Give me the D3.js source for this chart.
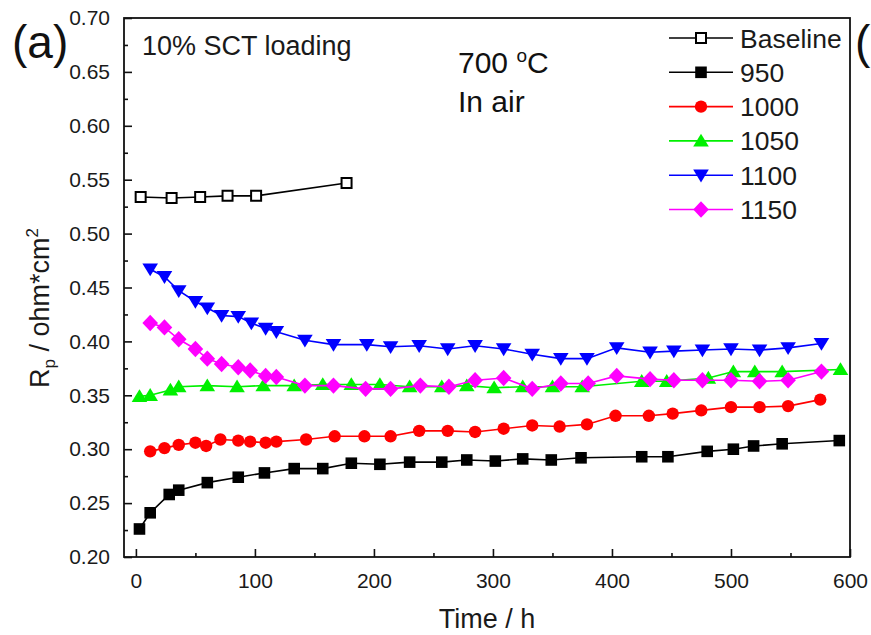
<!DOCTYPE html>
<html>
<head>
<meta charset="utf-8">
<script src="https://cdn.jsdelivr.net/npm/d3@7"></script>
<style>
  html, body { margin: 0; padding: 0; background: #fff; }
  svg { display: block; font-family: "Liberation Sans", Arial, sans-serif; }
</style>
</head>
<body>
<svg id="chart" width="871" height="635"></svg>
<script>
// ---------------- DATA ----------------
const seriesNames = ["Baseline", "950", "1000", "1050", "1100", "1150"];

const timeBaseline = [4, 30, 54, 77, 101, 177];
const rpBaseline   = [0.534, 0.533, 0.534, 0.535, 0.535, 0.547];

const time950 = [3, 12, 28, 36, 60, 86, 108, 133, 157, 181, 205, 230, 257, 278, 302, 325, 349, 374, 425, 447, 480, 502, 519, 543, 591];
const rp950   = [0.226, 0.241, 0.258, 0.262, 0.269, 0.274, 0.278, 0.282, 0.282, 0.287, 0.286, 0.288, 0.288, 0.290, 0.289, 0.291, 0.290, 0.292, 0.293, 0.293, 0.298, 0.300, 0.303, 0.305, 0.308];

const time1000 = [12, 24, 36, 50, 59, 71, 86, 96, 109, 118, 143, 167, 192, 214, 238, 262, 285, 309, 333, 356, 379, 403, 431, 451, 475, 500, 524, 548, 575];
const rp1000   = [0.298, 0.301, 0.304, 0.306, 0.303, 0.309, 0.308, 0.307, 0.306, 0.307, 0.309, 0.312, 0.312, 0.312, 0.317, 0.317, 0.316, 0.319, 0.322, 0.321, 0.323, 0.331, 0.331, 0.333, 0.336, 0.339, 0.339, 0.340, 0.346];

const time1050 = [3, 12, 29, 36, 60, 85, 107, 133, 157, 181, 205, 230, 257, 278, 301, 325, 350, 375, 425, 446, 481, 502, 520, 543, 592];
const rp1050   = [0.349, 0.350, 0.355, 0.358, 0.359, 0.358, 0.359, 0.359, 0.360, 0.360, 0.360, 0.358, 0.358, 0.359, 0.357, 0.358, 0.358, 0.358, 0.363, 0.363, 0.366, 0.372, 0.372, 0.372, 0.374];

const time1100 = [12, 24, 36, 50, 60, 72, 86, 97, 109, 118, 142, 166, 194, 214, 238, 262, 285, 309, 333, 357, 379, 404, 432, 452, 476, 500, 524, 548, 576];
const rp1100   = [0.467, 0.460, 0.447, 0.437, 0.431, 0.424, 0.423, 0.417, 0.412, 0.409, 0.401, 0.397, 0.397, 0.395, 0.396, 0.393, 0.396, 0.393, 0.388, 0.384, 0.384, 0.394, 0.390, 0.391, 0.392, 0.393, 0.392, 0.394, 0.398];

const time1150 = [12, 24, 36, 50, 60, 72, 86, 96, 109, 118, 142, 166, 193, 214, 239, 263, 285, 309, 333, 357, 380, 404, 432, 452, 476, 500, 524, 548, 576];
const rp1150   = [0.417, 0.413, 0.402, 0.393, 0.384, 0.379, 0.376, 0.373, 0.368, 0.367, 0.359, 0.359, 0.356, 0.356, 0.359, 0.358, 0.364, 0.366, 0.356, 0.361, 0.361, 0.368, 0.365, 0.364, 0.364, 0.364, 0.363, 0.364, 0.372];

const xMajorTicks = [0, 100, 200, 300, 400, 500, 600];
const xMinorTicks = [50, 150, 250, 350, 450, 550];
const yMajorTicks = [0.20, 0.25, 0.30, 0.35, 0.40, 0.45, 0.50, 0.55, 0.60, 0.65, 0.70];
const yMinorTicks = [0.225, 0.275, 0.325, 0.375, 0.425, 0.475, 0.525, 0.575, 0.625, 0.675];

// ---------------- STYLE ----------------
const colors  = {"Baseline": "#000000", "950": "#000000", "1000": "#ff0000", "1050": "#00f000", "1100": "#0000ff", "1150": "#ff00ff"};
const markers = {"Baseline": "openSquare", "950": "square", "1000": "circle", "1050": "triUp", "1100": "triDown", "1150": "diamond"};

const seriesX = {"Baseline": timeBaseline, "950": time950, "1000": time1000, "1050": time1050, "1100": time1100, "1150": time1150};
const seriesY = {"Baseline": rpBaseline, "950": rp950, "1000": rp1000, "1050": rp1050, "1100": rp1100, "1150": rp1150};

(function () {
const svg = d3.select("#chart");
const pLeft = 124, pRight = 850, pTop = 18, pBottom = 557;

const x = d3.scaleLinear().domain([-10, 600]).range([pLeft, pRight]);
const y = d3.scaleLinear().domain([0.20, 0.70]).range([pBottom, pTop]);

function markerPath(type) {
  switch (type) {
    case "square": case "openSquare": {
      const s = type === "square" ? 5.8 : 5;
      return `M${-s},${-s}H${s}V${s}H${-s}Z`;
    }
    case "circle": {
      const r = 6.2;
      return `M${r},0A${r},${r} 0 1,1 ${-r},0A${r},${r} 0 1,1 ${r},0Z`;
    }
    case "triUp": return "M0,-7.2L7.8,5.6L-7.8,5.6Z";
    case "triDown": return "M0,7.2L7.8,-5.6L-7.8,-5.6Z";
    case "diamond": return "M0,-8.2L7.8,0L0,8.2L-7.8,0Z";
  }
}
function drawMarker(g, type, color, cx, cy) {
  const p = g.append("path").attr("d", markerPath(type)).attr("transform", `translate(${cx},${cy})`);
  if (type === "openSquare") p.attr("fill", "#fff").attr("stroke", color).attr("stroke-width", 2);
  else p.attr("fill", color).attr("stroke", "none");
}

// ---------------- AXES ----------------
const axisColor = "#111";
const xAxis = svg.append("g").attr("transform", `translate(0,${pBottom})`)
  .call(d3.axisBottom(x).tickValues(xMajorTicks).tickSize(-8).tickSizeOuter(0).tickPadding(16).tickFormat(d3.format("d")));
const xMinor = svg.append("g").attr("transform", `translate(0,${pBottom})`)
  .call(d3.axisBottom(x).tickValues(xMinorTicks).tickSize(-4).tickSizeOuter(0).tickFormat(""));
const yAxis = svg.append("g").attr("transform", `translate(${pLeft},0)`)
  .call(d3.axisLeft(y).tickValues(yMajorTicks).tickSize(-8).tickSizeOuter(0).tickPadding(14).tickFormat(d3.format(".2f")));
const yMinor = svg.append("g").attr("transform", `translate(${pLeft},0)`)
  .call(d3.axisLeft(y).tickValues(yMinorTicks).tickSize(-4).tickSizeOuter(0).tickFormat(""));

[xAxis, xMinor, yAxis, yMinor].forEach(a => {
  a.select(".domain").remove();
  a.selectAll("line").attr("stroke", axisColor).attr("stroke-width", 1.6);
  a.selectAll("text").attr("fill", "#1a1a1a").style("font-size", "21px").style("font-family", '"Liberation Sans", Arial, sans-serif');
});

svg.append("rect").attr("x", pLeft).attr("y", pTop).attr("width", pRight - pLeft).attr("height", pBottom - pTop)
  .attr("fill", "none").attr("stroke", axisColor).attr("stroke-width", 1.8);

// axis titles
svg.append("text").attr("x", (pLeft + pRight) / 2).attr("y", 628).attr("text-anchor", "middle")
  .attr("fill", "#1a1a1a").style("font-size", "27px").text("Time / h");

const yl = svg.append("text").attr("transform", "translate(49,308) rotate(-90)").attr("text-anchor", "middle")
  .attr("fill", "#1a1a1a").style("font-size", "27px");
yl.append("tspan").text("R");
yl.append("tspan").attr("dy", 6).style("font-size", "17px").text("p");
yl.append("tspan").attr("dy", -6).text(" / ohm*cm");
yl.append("tspan").attr("dy", -11).style("font-size", "17px").text("2");

// ---------------- SERIES ----------------
const line = d3.line().x(d => x(d[0])).y(d => y(d[1]));
seriesNames.forEach(name => {
  const pts = seriesX[name].map((t, i) => [t, seriesY[name][i]]);
  const g = svg.append("g");
  g.append("path").datum(pts).attr("d", line).attr("fill", "none")
    .attr("stroke", colors[name]).attr("stroke-width", 1.6);
  pts.forEach(p => drawMarker(g, markers[name], colors[name], x(p[0]), y(p[1])));
});

// ---------------- LEGEND ----------------
const legendY0 = 38, legendStep = 34.3;
seriesNames.forEach((name, i) => {
  const ly = legendY0 + i * legendStep;
  const g = svg.append("g");
  g.append("line").attr("x1", 669).attr("x2", 733).attr("y1", ly).attr("y2", ly)
    .attr("stroke", colors[name]).attr("stroke-width", 1.6);
  drawMarker(g, markers[name], colors[name], 701, ly);
  g.append("text").attr("x", 740).attr("y", ly + 9.5).attr("fill", "#1a1a1a")
    .style("font-size", "26.5px").text(name);
});

// ---------------- ANNOTATIONS ----------------
svg.append("text").attr("x", 12).attr("y", 58).attr("fill", "#111").style("font-size", "46px").text("(a)");
svg.append("text").attr("x", 855).attr("y", 58).attr("fill", "#111").style("font-size", "46px").text("(");
svg.append("text").attr("x", 142).attr("y", 55).attr("fill", "#1a1a1a").style("font-size", "27px").text("10% SCT loading");
const t7 = svg.append("text").attr("x", 458).attr("y", 73).attr("fill", "#111").style("font-size", "30px");
t7.append("tspan").text("700 ");
t7.append("tspan").attr("dy", -11).style("font-size", "19px").text("o");
t7.append("tspan").attr("dy", 11).text("C");
svg.append("text").attr("x", 458).attr("y", 112).attr("fill", "#111").style("font-size", "30px").text("In air");
})();
</script>
</body>
</html>
